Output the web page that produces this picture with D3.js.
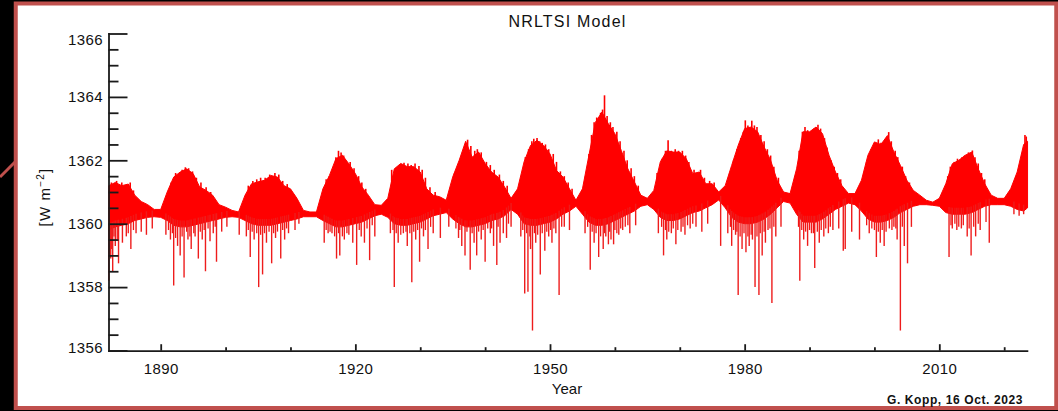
<!DOCTYPE html>
<html><head><meta charset="utf-8">
<script src="https://cdn.jsdelivr.net/npm/d3@7"></script>
<style>
html,body{margin:0;padding:0;background:#000;}
svg{display:block;}
text{font-family:"Liberation Sans",Arial,sans-serif;fill:#111;}
</style></head>
<body>
<svg id="chart" width="1058" height="411"></svg>
<script>
// ---- data ----
const years = [1882,1883,1884,1885,1886,1887,1888,1889,1890,1891,1892,1893,1894,1895,1896,1897,1898,1899,
1900,1901,1902,1903,1904,1905,1906,1907,1908,1909,1910,1911,1912,1913,1914,1915,1916,1917,1918,1919,
1920,1921,1922,1923,1924,1925,1926,1927,1928,1929,1930,1931,1932,1933,1934,1935,1936,1937,1938,1939,
1940,1941,1942,1943,1944,1945,1946,1947,1948,1949,1950,1951,1952,1953,1954,1955,1956,1957,1958,1959,
1960,1961,1962,1963,1964,1965,1966,1967,1968,1969,1970,1971,1972,1973,1974,1975,1976,1977,1978,1979,
1980,1981,1982,1983,1984,1985,1986,1987,1988,1989,1990,1991,1992,1993,1994,1995,1996,1997,1998,1999,
2000,2001,2002,2003,2004,2005,2006,2007,2008,2009,2010,2011,2012,2013,2014,2015,2016,2017,2018,2019,
2020,2021,2022,2023,2023.6];
const upperTSI = [1361.2,1361.3,1361.2,1361.25,1360.9,1360.7,1360.6,1360.45,1360.45,1361.0,1361.47,1361.63,1361.73,1361.58,1361.16,1361.05,1360.9,1360.6,
1360.52,1360.42,1360.37,1360.9,1361.26,1361.32,1361.37,1361.52,1361.47,1361.2,1361.1,1360.8,1360.42,1360.37,1360.37,1361.1,1361.52,1362.05,1362.16,1361.89,
1361.58,1361.16,1360.9,1360.6,1360.58,1360.8,1361.73,1361.9,1361.8,1361.8,1361.63,1361.1,1360.9,1360.85,1360.74,1361.47,1362.0,1362.6,1362.1,1362.26,
1361.9,1361.63,1361.47,1361.16,1360.8,1361.1,1361.95,1362.47,1362.63,1362.47,1362.2,1361.68,1361.47,1361.1,1360.74,1361.1,1362.16,1363.2,1363.52,1363.15,
1362.84,1362.3,1361.73,1361.32,1360.9,1360.8,1361.05,1361.95,1362.3,1362.26,1362.26,1362.05,1361.58,1361.63,1361.26,1361.26,1361.0,1361.2,1361.84,1362.47,
1363.0,1363.05,1362.9,1362.42,1362.0,1361.37,1361.0,1360.95,1361.73,1362.9,1362.9,1363.05,1362.84,1362.16,1361.63,1361.2,1360.95,1360.95,1361.37,1362.16,
1362.58,1362.5,1362.78,1362.26,1361.84,1361.37,1361.05,1360.9,1360.74,1360.68,1360.8,1361.26,1361.89,1362.0,1362.16,1362.26,1361.73,1361.26,1360.9,1360.8,
1360.8,1361.1,1361.63,1362.5,1362.6];
const lowerTSI = [1359.8,1359.9,1359.95,1360.0,1360.1,1360.15,1360.2,1360.22,1360.2,1360.1,1359.95,1359.9,1359.9,1359.95,1360.0,1360.05,1360.1,1360.15,
1360.2,1360.22,1360.2,1360.1,1360.0,1359.95,1359.95,1359.95,1360.0,1360.05,1360.1,1360.15,1360.22,1360.22,1360.22,1360.1,1360.0,1359.9,1359.9,1359.95,
1360.0,1360.05,1360.15,1360.25,1360.3,1360.2,1360.0,1359.95,1359.95,1360.0,1360.05,1360.15,1360.25,1360.3,1360.35,1360.15,1360.0,1359.9,1359.9,1359.95,
1360.0,1360.1,1360.15,1360.25,1360.45,1360.3,1360.0,1359.95,1359.95,1360.0,1360.05,1360.15,1360.3,1360.4,1360.55,1360.3,1360.05,1359.95,1359.95,1360.0,
1360.1,1360.2,1360.3,1360.4,1360.55,1360.6,1360.45,1360.2,1360.1,1360.1,1360.15,1360.25,1360.35,1360.4,1360.5,1360.6,1360.75,1360.5,1360.2,1360.05,
1360.0,1360.0,1360.05,1360.15,1360.3,1360.5,1360.7,1360.65,1360.3,1360.05,1360.05,1360.05,1360.15,1360.3,1360.45,1360.55,1360.65,1360.6,1360.4,1360.15,
1360.05,1360.05,1360.1,1360.2,1360.35,1360.45,1360.55,1360.6,1360.6,1360.58,1360.55,1360.35,1360.3,1360.3,1360.3,1360.35,1360.45,1360.55,1360.6,1360.6,
1360.6,1360.55,1360.45,1360.4,1360.5];
// deep downward excursions (sunspot darkening events)
const dipYears = [1882.0,1882.3,1882.6,1883.0,1883.5,1884.1,1884.7,1885.4,1886.2,1887.0,1887.8,1888.7,1890.8,1891.5,1892.0,1892.6,1893.0,1893.6,1894.2,1894.7,
1895.3,1895.8,1896.4,1896.9,1897.6,1898.1,1898.6,1899.4,1900.2,1902.1,1903.2,1903.8,1904.4,1905.1,1905.7,1906.3,1907.1,1907.7,1908.5,1909.1,
1909.7,1910.7,1911.3,1915.2,1915.8,1916.4,1917.1,1917.6,1918.3,1919.0,1919.6,1920.2,1920.9,1921.4,1922.2,1923.0,1925.4,1926.0,1926.6,1927.4,
1928.0,1928.7,1929.3,1929.9,1930.5,1931.2,1932.0,1933.1,1934.4,1935.9,1936.4,1936.9,1937.7,1938.3,1938.7,1939.4,1940.0,1940.8,1941.3,1941.8,
1942.3,1942.8,1943.3,1944.0,1945.5,1946.1,1946.6,1947.0,1947.3,1947.8,1948.5,1949.2,1949.8,1950.3,1950.9,1951.4,1952.2,1953.0,1955.4,1956.2,
1956.8,1957.5,1958.2,1958.6,1959.0,1959.4,1959.8,1960.6,1961.2,1962.3,1963.2,1966.7,1967.5,1968.0,1968.7,1969.4,1970.2,1970.8,1971.6,1972.5,
1973.4,1974.3,1976.3,1977.4,1978.0,1978.6,1979.0,1979.6,1980.2,1980.7,1981.2,1981.6,1982.2,1982.7,1983.2,1983.6,1984.2,1984.8,1985.6,1988.5,
1989.1,1989.7,1990.3,1990.8,1991.5,1992.2,1992.9,1993.6,1994.5,1995.2,1995.5,1996.5,1997.7,1999.2,2000.3,2000.9,2001.5,2002.3,2003.0,2003.5,
2004.0,2004.6,2005.1,2005.7,2011.5,2012.0,2012.7,2013.4,2014.3,2014.9,2015.6,2016.3,2017.7,2021.5,2022.3,2023.0];
const dipValues = [1358.2,1358.9,1358.5,1359.3,1358.75,1359.4,1359.6,1359.2,1359.7,1359.75,1359.65,1359.85,1359.65,1359.5,1358.05,1359.3,1359.0,1358.3,1359.5,1359.2,
1359.6,1358.9,1359.5,1358.5,1359.45,1359.7,1358.8,1359.75,1359.9,1359.65,1359.6,1358.95,1359.5,1358.0,1358.4,1359.4,1358.75,1359.55,1358.9,1359.5,
1359.7,1359.8,1360.0,1359.4,1359.7,1359.7,1358.9,1359.0,1359.5,1359.65,1359.4,1358.7,1359.6,1359.4,1358.85,1359.6,1359.7,1358.0,1359.4,1359.7,
1359.3,1358.15,1359.5,1358.8,1359.6,1359.2,1359.7,1359.55,1359.9,1359.55,1359.3,1359.0,1358.55,1359.4,1359.0,1359.5,1358.8,1359.7,1359.3,1358.7,
1359.4,1359.7,1359.55,1359.9,1359.6,1357.8,1357.85,1359.2,1356.63,1359.4,1358.4,1359.15,1359.6,1359.4,1359.7,1357.75,1359.9,1359.8,1359.7,1358.55,
1359.4,1358.95,1359.2,1359.6,1359.35,1359.5,1359.35,1359.65,1359.8,1359.7,1359.95,1359.7,1359.0,1359.5,1359.7,1359.35,1359.75,1359.65,1359.85,1359.9,
1359.75,1360.0,1359.3,1359.7,1359.3,1359.65,1357.75,1359.2,1359.1,1359.3,1359.5,1358.0,1357.75,1359.0,1359.4,1359.8,1357.5,1359.6,1359.9,1358.2,
1359.5,1359.3,1359.7,1358.6,1359.4,1359.6,1359.7,1359.8,1359.85,1359.15,1359.2,1359.75,1359.5,1359.7,1358.95,1359.4,1359.3,1359.85,1359.9,1359.5,
1356.63,1359.3,1358.75,1359.9,1358.95,1359.85,1359.8,1359.85,1359.6,1359.0,1359.6,1359.8,1359.4,1360.3,1360.25,1360.3];
// shallower dips forming the fringe under the dense band
const fringeYears = [1882.15,1882.45,1882.8,1883.3,1885.0,1885.8,1891.2,1891.8,1892.3,1893.3,1894.0,1894.5,1895.1,1896.1,1896.7,1897.3,1898.4,
1903.5,1904.1,1904.8,1905.4,1906.0,1906.7,1907.4,1908.0,1908.8,1909.4,1915.5,1916.1,1916.8,1917.4,1918.0,1918.7,1920.6,1921.8,1922.6,
1925.8,1926.3,1927.0,1927.8,1928.4,1929.0,1929.6,1930.2,1930.8,1931.6,1935.5,1936.1,1937.2,1938.0,1939.0,1939.7,1940.4,1941.0,1942.0,1943.6,
1945.8,1946.4,1946.9,1947.6,1948.1,1948.8,1949.5,1950.1,1950.6,1951.8,1955.8,1956.5,1957.1,1957.8,1958.4,1959.2,1960.0,1960.3,1960.9,1961.6,1962.0,
1967.2,1967.8,1968.3,1969.0,1969.7,1970.5,1971.2,1972.0,1977.8,1978.3,1978.8,1979.3,1979.9,1980.5,1981.0,1981.9,1982.4,1983.0,1983.9,1984.5,
1988.3,1988.8,1989.4,1990.0,1990.6,1991.2,1991.8,1992.5,1993.2,1998.8,1999.6,2000.0,2000.6,2001.2,2001.8,2002.7,2003.3,2004.3,
2011.8,2012.4,2013.0,2013.7,2014.6,2015.3,2016.0,2017.2];
const fringeValues = [1359.0,1359.2,1359.6,1359.5,1359.7,1359.8,1359.8,1359.7,1359.55,1359.6,1359.75,1359.6,1359.7,1359.75,1359.8,1359.85,1359.9,
1359.8,1359.75,1359.7,1359.65,1359.7,1359.75,1359.7,1359.75,1359.8,1359.85,1359.8,1359.75,1359.6,1359.7,1359.6,1359.7,1359.8,1359.85,1359.95,
1359.8,1359.7,1359.65,1359.75,1359.7,1359.75,1359.8,1359.85,1359.8,1359.9,1359.85,1359.8,1359.75,1359.7,1359.75,1359.8,1359.85,1359.85,1359.9,1360.0,
1359.8,1359.7,1359.6,1359.7,1359.65,1359.7,1359.75,1359.8,1359.85,1359.9,1359.9,1359.75,1359.7,1359.6,1359.7,1359.75,1359.8,1359.7,1359.85,1359.9,1359.95,
1359.9,1359.8,1359.75,1359.85,1359.8,1359.9,1359.95,1360.0,1359.9,1359.8,1359.75,1359.6,1359.7,1359.6,1359.65,1359.6,1359.7,1359.75,1359.85,1359.9,
1359.9,1359.8,1359.75,1359.8,1359.7,1359.75,1359.8,1359.85,1359.9,1359.95,1359.85,1359.8,1359.75,1359.8,1359.75,1359.8,1359.85,1359.9,
1359.95,1360.0,1359.9,1359.95,1359.85,1359.9,1360.0,1360.05];
// upward excursions (faculae brightening) on the upper edge
const peakYears = [1882.4,1882.8,1883.2,1884.0,1884.6,1885.3,1885.8,1891.6,1892.3,1892.8,1893.3,1893.8,1894.3,1894.9,1895.5,1896.2,1897.0,1897.7,
1903.5,1904.2,1904.8,1905.4,1906.1,1906.8,1907.6,1908.2,1908.8,1909.5,1915.5,1916.0,1916.6,1917.0,1917.4,1917.8,1918.2,1918.6,1919.2,1919.8,1920.5,1921.0,1921.6,
1925.6,1926.2,1926.8,1927.5,1928.1,1928.6,1929.2,1929.8,1930.3,1930.8,1931.5,1932.3,
1935.3,1935.8,1936.4,1936.9,1937.3,1937.8,1938.4,1938.8,1939.4,1940.2,1940.8,1941.4,1942.2,1942.8,1943.4,
1945.6,1946.2,1946.7,1947.2,1947.5,1948.0,1948.4,1948.8,1949.3,1949.8,1950.5,1951.0,1951.6,1952.2,1952.8,1953.4,
1955.5,1956.0,1956.4,1956.8,1957.2,1957.8,1958.1,1958.4,1958.8,1959.3,1959.7,1960.3,1960.8,1961.4,1961.9,1962.5,1963.0,1963.6,
1966.5,1967.3,1967.8,1968.2,1968.7,1969.3,1969.8,1970.4,1970.9,1971.4,1972.2,1973.2,1973.8,1974.6,1975.3,
1977.7,1978.3,1978.8,1979.4,1979.8,1980.1,1980.5,1981.1,1981.5,1981.9,1982.5,1983.0,1983.5,1984.0,1984.5,1985.2,
1987.8,1988.4,1988.9,1989.3,1989.7,1990.2,1990.7,1991.3,1991.7,1992.3,1992.7,1993.3,1993.8,1994.3,1994.8,
1998.4,1998.8,1999.5,1999.9,2000.6,2001.0,2001.5,2001.8,2002.2,2002.6,2003.2,2003.6,2004.3,2004.8,2005.4,
2011.3,2011.7,2012.3,2012.8,2013.5,2013.9,2014.5,2014.8,2015.1,2015.5,2016.0,2016.5,2017.0,
2021.8,2022.4,2022.8,2023.2,2023.4];
const peakValues = [1361.3,1361.15,1361.35,1361.3,1361.2,1361.3,1361.05,1361.3,1361.6,1361.55,1361.7,1361.78,1361.75,1361.65,1361.45,1361.3,1361.15,1361.0,
1361.2,1361.35,1361.4,1361.45,1361.45,1361.55,1361.6,1361.55,1361.35,1361.25,1361.4,1361.5,1361.7,1362.1,1362.3,1362.25,1362.15,1361.95,1361.95,1361.75,1361.5,1361.3,1361.1,
1361.7,1361.75,1361.85,1361.92,1361.9,1361.85,1361.9,1361.82,1361.7,1361.45,1361.15,1361.0,
1361.6,1361.8,1362.1,1362.4,1362.65,1362.45,1362.3,1362.35,1362.25,1361.95,1361.85,1361.7,1361.55,1361.35,1361.2,
1361.5,1362.1,1362.35,1362.6,1362.68,1362.7,1362.6,1362.55,1362.5,1362.35,1362.2,1361.95,1361.65,1361.5,1361.3,1361.1,
1361.5,1362.2,1362.8,1363.2,1363.35,1363.5,1363.6,1364.05,1363.4,1363.2,1363.05,1362.9,1362.6,1362.3,1362.0,1361.75,1361.5,1361.2,
1361.6,1362.05,1362.3,1362.63,1362.3,1362.35,1362.3,1362.3,1362.15,1361.95,1361.7,1361.7,1361.45,1361.35,1361.3,
1361.6,1362.0,1362.35,1362.7,1362.9,1363.26,1363.1,1363.25,1363.1,1363.05,1362.8,1362.6,1362.35,1362.15,1361.8,1361.45,
1361.5,1362.3,1362.9,1363.05,1362.95,1362.9,1363.0,1363.12,1363.0,1362.7,1362.4,1362.0,1361.8,1361.6,1361.4,
1361.6,1361.95,1362.35,1362.5,1362.66,1362.55,1362.45,1362.65,1362.89,1362.6,1362.3,1362.1,1361.8,1361.5,1361.3,
1361.5,1361.8,1361.95,1362.05,1362.1,1362.15,1362.25,1362.2,1362.31,1362.1,1361.9,1361.6,1361.4,
1361.5,1361.85,1362.2,1362.8,1362.75];
const yMajorTicks = [1356,1358,1360,1362,1364,1366];
const yMinorTicks = [1356.5,1357,1357.5,1358.5,1359,1359.5,1360.5,1361,1361.5,1362.5,1363,1363.5,1364.5,1365,1365.5];
const xMajorTicks = [1890,1920,1950,1980,2010];
const xMinorTicks = [1900,1910,1930,1940,1960,1970,1990,2000,2020];

const svg = d3.select("#chart");
const RED = "#ff0000";

// frame
svg.append("line").attr("x1",0).attr("y1",177).attr("x2",16).attr("y2",161)
  .attr("stroke","#c0504d").attr("stroke-width",3);
svg.append("rect").attr("x",15.75).attr("y",3.5).attr("width",1040.5).attr("height",404.5)
  .attr("fill","#fff").attr("stroke","#c0504d").attr("stroke-width",4);

const x = d3.scaleLinear().domain([1882,2023.5]).range([108.8,1026.9]);
const y = d3.scaleLinear().domain([1356,1366]).range([350.5,33.5]);

const pts = years.map((t,i)=>({t,hi:upperTSI[i],lo:lowerTSI[i]}));
const bis = d3.bisector(d=>d.t).left;
function interp(t,key){
  let i = bis(pts,t); if(i<=0) return pts[0][key]; if(i>=pts.length) return pts[pts.length-1][key];
  const a=pts[i-1], b=pts[i]; const f=(t-a.t)/(b.t-a.t); return a[key]+(b[key]-a[key])*f;
}

const g = svg.append("g");
g.append("path").datum(pts)
  .attr("d", d3.area().x(d=>x(d.t)).y0(d=>y(d.lo)).y1(d=>y(d.hi)))
  .attr("fill",RED).attr("stroke",RED).attr("stroke-width",1);

const spike = (cls, ys, vs, key, off, col, w) =>
  g.selectAll("line."+cls).data(ys.map((t,i)=>({t,v:vs[i]}))).join("line")
    .attr("class",cls)
    .attr("x1",d=>x(d.t)).attr("x2",d=>x(d.t))
    .attr("y1",d=>y(interp(d.t,key)+off)).attr("y2",d=>y(d.v))
    .attr("stroke",col).attr("stroke-width",w);
spike("fringe", fringeYears, fringeValues, "lo", 0.2, "#f31515", 1.3);
spike("dip", dipYears, dipValues, "lo", 0.2, "#ee1c1c", 1.4);
spike("peak", peakYears, peakValues, "hi", -0.25, RED, 1.6);

// axes
const AX = "#1a1a1a";
const yAxis = svg.append("g").attr("transform","translate(108.5,0)")
  .call(d3.axisLeft(y).tickValues(yMajorTicks).tickFormat(d3.format("d")).tickSizeInner(-19).tickSizeOuter(0).tickPadding(5.5));
svg.append("g").attr("transform","translate(108.5,0)")
  .call(d3.axisLeft(y).tickValues(yMinorTicks).tickFormat("").tickSizeInner(-10).tickSizeOuter(0))
  .select(".domain").remove();
const xAxis = svg.append("g").attr("transform","translate(0,350.7)")
  .call(d3.axisBottom(x).tickValues(xMajorTicks).tickFormat(d3.format("d")).tickSizeInner(-6.5).tickSizeOuter(0).tickPadding(12.5));
svg.append("g").attr("transform","translate(0,350.7)")
  .call(d3.axisBottom(x).tickValues(xMinorTicks).tickFormat("").tickSizeInner(-3.5).tickSizeOuter(0))
  .select(".domain").remove();
svg.selectAll(".domain").attr("stroke",AX).attr("stroke-width",1.8).attr("stroke-linecap","square");
svg.selectAll(".tick line").attr("stroke",AX).attr("stroke-width",1.8);
svg.selectAll(".tick text").attr("font-size",15).attr("fill","#111")
  .style("font-family","'Liberation Sans',Arial,sans-serif").attr("letter-spacing",0.4);
yAxis.selectAll(".tick text").attr("dy",d=> d===1366 ? "0.72em" : (d===1356 ? "0.1em" : "0.32em"));

// titles
svg.append("text").attr("x",567.5).attr("y",26.5).attr("text-anchor","middle")
  .attr("font-size",16).attr("letter-spacing",1.2).text("NRLTSI Model");
svg.append("text").attr("x",567).attr("y",394).attr("text-anchor","middle")
  .attr("font-size",15).text("Year");
const yl = svg.append("text").attr("transform","translate(50,197) rotate(-90)")
  .attr("text-anchor","middle").attr("font-size",15).attr("letter-spacing",1.2);
yl.append("tspan").text("[W m");
yl.append("tspan").attr("font-size",10).attr("dy",-6).text("−2");
yl.append("tspan").attr("dy",6).text("]");
svg.append("text").attr("x",1023).attr("y",404).attr("text-anchor","end")
  .attr("font-size",12).attr("font-weight","bold").attr("letter-spacing",0.6).text("G. Kopp, 16 Oct. 2023");
</script>
</body></html>
